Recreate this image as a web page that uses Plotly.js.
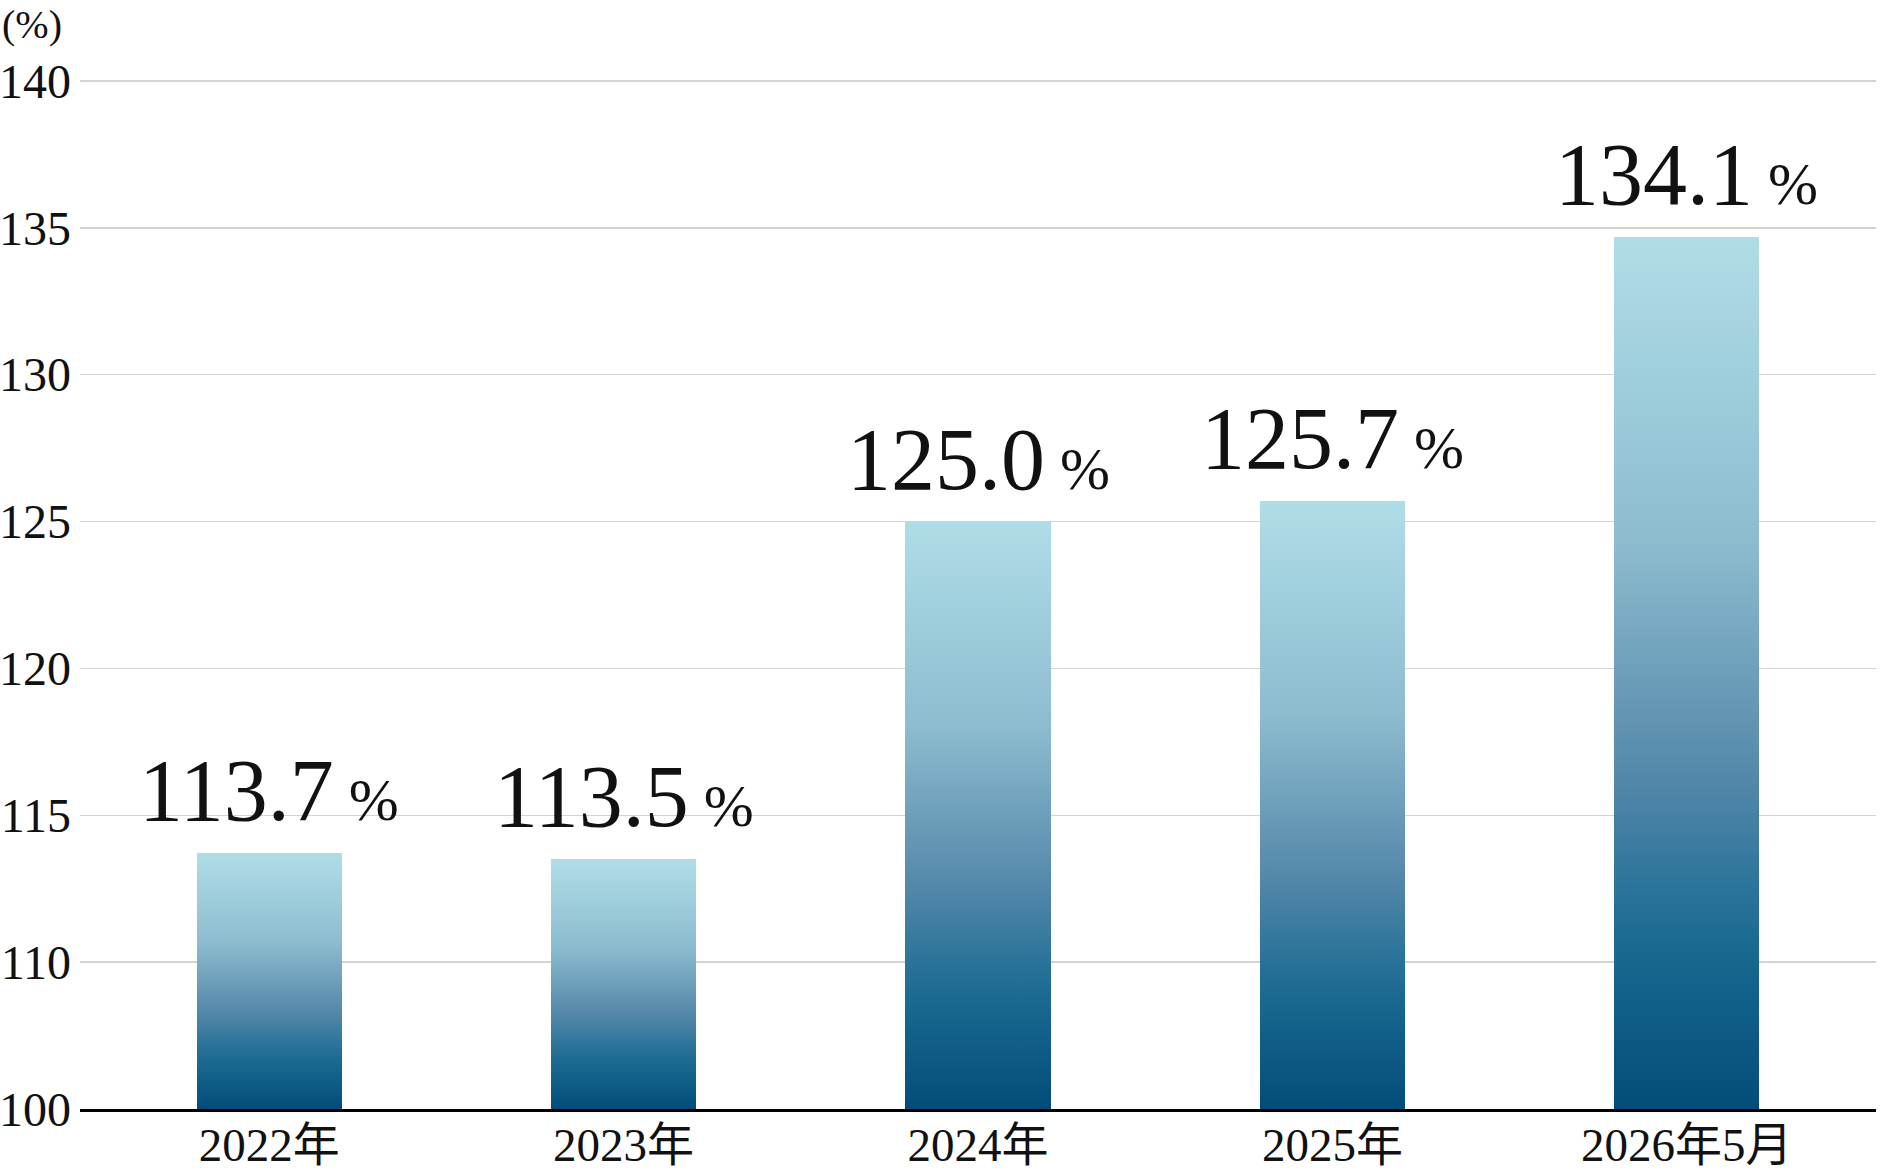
<!DOCTYPE html>
<html>
<head>
<meta charset="utf-8">
<script src="https://cdn.plot.ly/plotly-3.0.1.min.js"></script>
<style>
html,body{margin:0;padding:0;background:#fff;}
#chart{width:1893px;height:1170px;}
</style>
</head>
<body>
<div id="chart"></div>
<script>
// Data
const categories = ["2022年", "2023年", "2024年", "2025年", "2026年5月"];
const barValues = [113.7, 113.5, 125.0, 125.7, 134.7];   // bar heights as drawn in the picture
const valueLabels = ["113.7", "113.5", "125.0", "125.7", "134.1"];
const tickVals = [105, 110, 115, 120, 125, 130, 135, 140];
const tickText = ["100", "110", "115", "120", "125", "130", "135", "140"];
const unitLabel = "(%)";
const axisBase = 105; // position where the broken axis label "100" sits

const serif = '"Liberation Serif", "Times New Roman", "Noto Sans CJK JP", serif';

const trace = {
  type: "bar",
  x: categories,
  y: barValues.map(v => v - axisBase),
  base: axisBase,
  width: 0.41,
  marker: {color: "#5488AA", line: {width: 0}},
  hoverinfo: "skip"
};

const annotations = categories.map((c, i) => ({
  x: c, y: barValues[i], xref: "x", yref: "y",
  text: valueLabels[i] + '<span style="font-size:60px"> %</span>',
  showarrow: false, yanchor: "bottom", xanchor: "center", yshift: 12,
  font: {family: serif, size: 88, color: "#111"}
}));
annotations.push({
  x: 0, y: 1, xref: "paper", yref: "paper", xanchor: "left", yanchor: "top",
  xshift: -80, yshift: 75,
  text: unitLabel, showarrow: false,
  font: {family: serif, size: 40, color: "#111"}
});

const layout = {
  width: 1893, height: 1170,
  margin: {l: 80, r: 17, t: 75, b: 61},
  paper_bgcolor: "#fff", plot_bgcolor: "#fff",
  showlegend: false,
  xaxis: {
    type: "category",
    range: [-0.534, 4.534],
    showline: true, linecolor: "#000", linewidth: 3,
    showgrid: false, zeroline: false, ticks: "",
    tickfont: {family: serif, size: 47, color: "#111"},
    ticklabelstandoff: -7
  },
  yaxis: {
    range: [105, 140.2],
    tickmode: "array", tickvals: tickVals, ticktext: tickText,
    showgrid: true, gridcolor: "#d3d3d3", gridwidth: 1.5,
    zeroline: false, showline: false, ticks: "",
    tickfont: {family: serif, size: 48, color: "#111"},
    ticklabelstandoff: 8
  },
  annotations: annotations,
  bargap: 0
};

Plotly.newPlot("chart", [trace], layout, {staticPlot: true}).then(function(gd){
  const svg = gd.querySelector(".main-svg");
  let defs = svg.querySelector("defs");
  const ns = "http://www.w3.org/2000/svg";
  if (!defs) { defs = document.createElementNS(ns, "defs"); svg.insertBefore(defs, svg.firstChild); }
  const grad = document.createElementNS(ns, "linearGradient");
  grad.setAttribute("id", "barGrad");
  grad.setAttribute("x1", "0"); grad.setAttribute("y1", "0");
  grad.setAttribute("x2", "0"); grad.setAttribute("y2", "1");
  const stops = [[0, "#AFDDE7"], [0.35, "#8DBCCF"], [0.62, "#5488AA"], [0.75, "#2A7399"], [0.83, "#17678F"], [1, "#034C7A"]];
  stops.forEach(function(s){
    const st = document.createElementNS(ns, "stop");
    st.setAttribute("offset", s[0]);
    st.setAttribute("stop-color", s[1]);
    grad.appendChild(st);
  });
  defs.appendChild(grad);
  gd.querySelectorAll(".bars .point path").forEach(function(p){
    p.style.fill = "url(#barGrad)";
  });
});
</script>
</body>
</html>
